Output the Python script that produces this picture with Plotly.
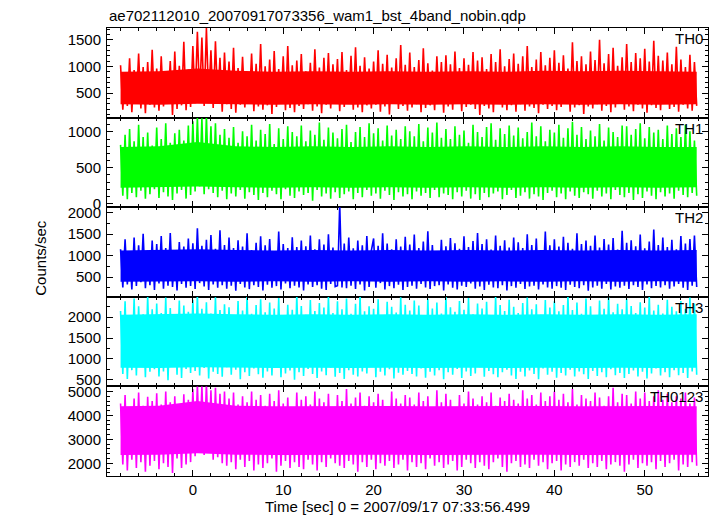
import plotly.graph_objects as go
from plotly.subplots import make_subplots

title_text = "ae702112010_20070917073356_wam1_bst_4band_nobin.qdp"
x_title = "Time [sec] 0 = 2007/09/17 07:33:56.499"
y_title = "Counts/sec"
band_names = ["TH0", "TH1", "TH2", "TH3", "TH0123"]
band_colors = ["#ff0000", "#00ff00", "#0000ff", "#00ffff", "#ff00ff"]
t_start = -8.0
t_step = 0.25          # sampling of the spiky light curves
core_step = 4.25       # sampling of the dense (solid) band

th0 = [
    1020, 190, 880, 260, 1150, 140, 930, 300, 1240, 210, 990, 120, 1080, 280, 1310, 230,
    960, 170, 1190, 250, 870, 320, 1100, 90, 1280, 200, 1010, 270, 1460, 180, 940, 240,
    1380, 310, 1650, 420, 1540, 260, 1720, 380, 1300, 220, 1470, 340, 1160, 150, 1260, 290,
    1090, 200, 1350, 130, 970, 280, 1180, 230, 900, 310, 1240, 160, 1050, 250, 1420, 190,
    1000, 270, 1130, 110, 1290, 240, 950, 300, 1190, 180, 1380, 220, 1020, 140, 1110, 260,
    1230, 200, 910, 290, 1070, 170, 1320, 250, 980, 120, 1160, 280, 1250, 210, 1040, 330,
    1140, 160, 1270, 240, 930, 300, 1200, 190, 1360, 230, 1010, 140, 1170, 270, 960, 210,
    1090, 280, 1300, 150, 1050, 250, 1220, 100, 980, 310, 1150, 200, 1400, 260, 1030, 170,
    1260, 230, 990, 290, 1120, 140, 1340, 220, 1060, 270, 920, 180, 1190, 300, 1080, 130,
    1210, 250, 1040, 190, 1280, 310, 970, 160, 1150, 240, 1030, 280, 1270, 200, 1110, 90,
    1170, 260, 950, 210, 1230, 140, 1080, 300, 1320, 230, 1000, 180, 1140, 270, 1240, 150,
    1050, 290, 1190, 170, 1380, 250, 990, 220, 1130, 120, 1270, 280, 1020, 200, 1160, 260,
    1300, 180, 1070, 240, 1210, 300, 960, 150, 1450, 230, 1100, 270, 1190, 110, 1040, 250,
    1280, 210, 1120, 290, 1500, 170, 1060, 260, 1230, 140, 1350, 230, 1010, 300, 1170, 190,
    1420, 250, 1080, 160, 1250, 280, 1150, 210, 1330, 130, 1090, 270, 1480, 220, 1200, 180,
    1110, 300, 1260, 200, 1040, 240, 1370, 150, 1130, 280, 990, 210, 1220, 170, 1080, 260,
]

th1 = [
    820, 110, 960, 60, 1040, 150, 870, 90, 1100, 180, 930, 70, 990, 130, 810, 200,
    1060, 80, 900, 160, 1120, 100, 850, 50, 980, 140, 1030, 190, 880, 70, 1090, 120,
    1150, 170, 1210, 240, 1190, 130, 1230, 200, 1080, 150, 1120, 90, 960, 180, 1040, 60,
    920, 140, 1070, 100, 850, 190, 1010, 70, 940, 160, 1100, 120, 880, 50, 1030, 150,
    970, 90, 1110, 180, 830, 130, 1050, 60, 900, 200, 1080, 110, 1000, 80, 940, 170,
    1090, 120, 870, 150, 1020, 40, 960, 190, 1130, 100, 890, 140, 1060, 70, 990, 160,
    910, 80, 1040, 130, 1100, 170, 860, 60, 1000, 150, 1070, 90, 930, 190, 1120, 110,
    980, 140, 1050, 70, 880, 180, 1090, 120, 950, 50, 1030, 160, 900, 100, 1080, 130,
    1010, 60, 940, 170, 1110, 110, 870, 150, 1060, 80, 990, 190, 1130, 90, 920, 140,
    1040, 120, 900, 60, 1080, 160, 960, 100, 1020, 180, 850, 70, 1100, 130, 1000, 50,
    930, 150, 1070, 90, 1120, 140, 890, 170, 1050, 60, 970, 120, 1090, 190, 950, 80,
    1060, 110, 910, 160, 1000, 70, 1130, 130, 940, 100, 1080, 50, 870, 150, 1030, 180,
    990, 90, 1100, 140, 920, 60, 1050, 170, 1140, 110, 960, 80, 1070, 160, 900, 130,
    1020, 70, 940, 180, 1110, 100, 880, 140, 1060, 60, 1000, 190, 930, 120, 1090, 90,
    1080, 150, 960, 50, 1040, 130, 1120, 80, 910, 170, 1070, 110, 990, 60, 1030, 160,
    900, 100, 1090, 140, 970, 70, 1050, 180, 930, 120, 1100, 90, 1010, 150, 880, 110,
]

th2 = [
    1150, 260, 1380, 330, 1090, 210, 1420, 290, 1240, 380, 1510, 240, 1120, 310, 1350, 200,
    1270, 350, 1460, 230, 1180, 300, 1530, 270, 1100, 190, 1320, 340, 1210, 250, 1400, 290,
    1290, 220, 1640, 360, 1230, 280, 1370, 200, 1480, 330, 1160, 250, 1590, 310, 1250, 230,
    1420, 300, 1180, 180, 1360, 340, 1210, 260, 1520, 220, 1130, 310, 1300, 270, 1450, 190,
    1240, 320, 1390, 250, 1100, 290, 1560, 210, 1270, 350, 1180, 240, 1430, 300, 1200, 260,
    1350, 190, 1220, 330, 1470, 270, 1150, 310, 1380, 230, 1260, 200, 1500, 340, 1190, 280,
    300, 2200, 260, 1280, 240, 1420, 300, 1170, 220, 1350, 330, 1240, 190, 1460, 270, 1120,
    1400, 250, 1230, 360, 1520, 210, 1280, 290, 1150, 240, 1380, 320, 1210, 200, 1440, 270,
    1260, 300, 1490, 230, 1180, 340, 1330, 260, 1570, 220, 1250, 290, 1110, 310, 1370, 190,
    1220, 330, 1410, 250, 1290, 210, 1160, 300, 1450, 270, 1200, 350, 1340, 230, 1530, 280,
    1270, 200, 1380, 320, 1140, 260, 1470, 240, 1230, 310, 1360, 190, 1190, 290, 1420, 250,
    1310, 340, 1180, 220, 1500, 280, 1250, 300, 1400, 210, 1130, 330, 1560, 260, 1240, 230,
    1380, 290, 1210, 250, 1440, 200, 1300, 320, 1160, 270, 1520, 240, 1270, 310, 1350, 180,
    1230, 260, 1470, 300, 1190, 230, 1390, 340, 1260, 210, 1410, 280, 1140, 250, 1580, 300,
    1300, 220, 1360, 310, 1220, 270, 1490, 200, 1170, 330, 1330, 240, 1610, 290, 1250, 260,
    1420, 310, 1200, 230, 1370, 280, 1150, 340, 1460, 250, 1280, 200, 1390, 300, 1470, 270,
]

th3 = [
    2150, 640, 2380, 520, 1990, 730, 2450, 600, 2260, 810, 2070, 560, 2500, 690, 2190, 750,
    2330, 580, 2100, 700, 2470, 490, 2220, 820, 2040, 620, 2400, 540, 2280, 760, 2130, 660,
    2420, 710, 2550, 600, 2200, 780, 2360, 530, 2090, 690, 2480, 640, 2170, 570, 2310, 800,
    2240, 620, 2020, 740, 2390, 510, 2160, 680, 2510, 590, 2080, 770, 2290, 630, 2430, 550,
    2120, 700, 2350, 600, 2210, 830, 2460, 560, 2010, 650, 2300, 720, 2180, 500, 2540, 680,
    2270, 590, 2060, 760, 2410, 640, 2150, 540, 2340, 700, 2230, 610, 2490, 790, 2100, 570,
    2380, 660, 2190, 520, 2450, 730, 2080, 620, 2320, 580, 2520, 700, 2140, 650, 2260, 810,
    2200, 560, 2430, 690, 2050, 600, 2370, 750, 2250, 530, 2110, 670, 2480, 620, 2300, 710,
    2160, 640, 2400, 580, 2280, 770, 2030, 550, 2440, 690, 2210, 600, 2350, 730, 2090, 510,
    2500, 680, 2240, 620, 2130, 760, 2390, 540, 2180, 700, 2460, 590, 2070, 650, 2330, 800,
    2210, 570, 2370, 710, 2020, 630, 2500, 560, 2290, 680, 2150, 740, 2420, 600, 2250, 520,
    2100, 690, 2340, 580, 2470, 720, 2190, 640, 2310, 510, 2060, 770, 2410, 620, 2230, 690,
    2380, 550, 2140, 660, 2290, 600, 2530, 740, 2170, 580, 2350, 700, 2080, 630, 2450, 520,
    2260, 710, 2040, 590, 2400, 680, 2200, 560, 2480, 750, 2120, 610, 2320, 660, 2190, 540,
    2440, 640, 2270, 720, 2100, 580, 2360, 690, 2230, 530, 2510, 650, 2160, 770, 2300, 600,
    2090, 680, 2420, 560, 2250, 730, 2140, 610, 2390, 660, 2200, 540, 2470, 700, 2330, 620,
]

th0123 = [
    4500, 1950, 4850, 1700, 4280, 2150, 4700, 1800, 4950, 2050, 4400, 1650, 4780, 1900, 4600, 2100,
    4920, 1750, 4450, 2000, 5000, 1850, 4550, 1600, 4800, 2200, 4350, 1800, 4880, 1950, 4650, 2050,
    5100, 2300, 5300, 2550, 5250, 2350, 5350, 2450, 5050, 2150, 5150, 2250, 4900, 2000, 5000, 1900,
    4700, 2050, 4950, 1750, 4450, 2150, 4800, 1850, 4550, 2100, 5000, 1700, 4650, 1950, 4850, 1800,
    4400, 2000, 4900, 2200, 4600, 1650, 5050, 1900, 4500, 2100, 4750, 1800, 4350, 2050, 4950, 1850,
    4650, 1750, 4800, 2150, 4450, 1950, 5000, 1700, 4700, 2050, 4550, 1850, 4900, 2200, 4350, 2000,
    4850, 1900, 4600, 1800, 5100, 2100, 4500, 1950, 4750, 1650, 4950, 2050, 4400, 1850, 4800, 2150,
    4550, 1750, 4900, 2000, 4650, 1900, 4350, 2100, 5000, 1800, 4700, 1950, 4500, 2150, 4850, 1700,
    4750, 2050, 4450, 1850, 4950, 2000, 4600, 1750, 4800, 2200, 4300, 1900, 5050, 2050, 4550, 1800,
    4900, 1950, 4650, 2100, 4350, 1700, 4850, 1850, 4500, 2150, 5000, 2000, 4700, 1800, 4450, 2050,
    4800, 1900, 4550, 1750, 4950, 2050, 4400, 2200, 4750, 1850, 4600, 1650, 4900, 2000, 4650, 2100,
    4500, 1850, 5050, 1950, 4700, 1800, 4850, 2150, 4450, 1900, 4950, 2050, 4600, 1750, 4800, 2000,
    5000, 2100, 4650, 1700, 4900, 1950, 4550, 1850, 5100, 2050, 4450, 1900, 4850, 2150, 4700, 1800,
    4600, 2000, 4950, 1850, 4750, 2100, 4400, 1750, 4800, 1950, 5150, 2050, 4550, 1900, 4900, 1650,
    4850, 1950, 4500, 2150, 5000, 1800, 4700, 2000, 4950, 1900, 4600, 2050, 4800, 1750, 5050, 2100,
    4650, 1850, 4900, 2000, 4550, 2150, 4800, 1700, 4700, 1950, 4950, 1850, 4500, 2050, 4750, 1900,
]

# dense (solid-looking) part of each light curve, lower and upper edge
th0_core_lo = [290, 280, 300, 290, 280, 290, 280, 290, 280, 290, 280, 290, 280, 290, 280, 290]
th0_core_hi = [900, 910, 960, 920, 900, 910, 900, 910, 900, 910, 900, 920, 910, 920, 910, 900]
th1_core_lo = [220, 230, 240, 230, 220, 230, 220, 230, 220, 230, 220, 230, 220, 230, 220, 230]
th1_core_hi = [790, 800, 860, 800, 790, 800, 790, 800, 790, 800, 790, 800, 790, 800, 790, 790]
th2_core_lo = [390, 400, 400, 390, 400, 390, 400, 390, 400, 390, 400, 390, 400, 390, 400, 390]
th2_core_hi = [1120, 1130, 1150, 1130, 1120, 1130, 1120, 1130, 1120, 1130, 1120, 1130, 1120, 1130, 1120, 1130]
th3_core_lo = [790, 780, 800, 790, 780, 790, 780, 790, 780, 790, 780, 790, 780, 790, 780, 790]
th3_core_hi = [2060, 2070, 2090, 2070, 2060, 2070, 2060, 2070, 2060, 2070, 2060, 2070, 2060, 2070, 2060, 2070]
th0123_core_lo = [2350, 2360, 2420, 2360, 2350, 2360, 2350, 2360, 2350, 2360, 2350, 2360, 2350, 2360, 2350, 2360]
th0123_core_hi = [4380, 4400, 4600, 4400, 4380, 4390, 4380, 4390, 4380, 4390, 4380, 4390, 4380, 4400, 4390, 4380]

series = [th0, th1, th2, th3, th0123]
cores = [
    (th0_core_lo, th0_core_hi), (th1_core_lo, th1_core_hi), (th2_core_lo, th2_core_hi),
    (th3_core_lo, th3_core_hi), (th0123_core_lo, th0123_core_hi),
]
y_ranges = [[40, 1720], [-50, 1200], [40, 2130], [340, 2490], [1470, 5210]]
y_dticks = [500, 500, 500, 500, 1000]
y_minor = [100, 100, 250, 250, 200]
x_range = [-9.5, 57.0]

FONT = "Liberation Sans, Arial, Helvetica, sans-serif"

fig = make_subplots(rows=5, cols=1, shared_xaxes=True, vertical_spacing=0)

for i, (vals, col, (lo, hi)) in enumerate(zip(series, band_colors, cores)):
    fig.add_trace(
        go.Scatter(x0=t_start, dx=core_step, y=lo, mode="lines", line=dict(width=0, color=col),
                   showlegend=False, hoverinfo="skip"),
        row=i + 1, col=1,
    )
    fig.add_trace(
        go.Scatter(x0=t_start, dx=core_step, y=hi, mode="lines", line=dict(width=0, color=col),
                   fill="tonexty", fillcolor=col, showlegend=False, hoverinfo="skip"),
        row=i + 1, col=1,
    )
    fig.add_trace(
        go.Scatter(
            x0=t_start, dx=t_step, y=vals, mode="lines",
            line=dict(color=col, width=1.6), showlegend=False, hoverinfo="skip",
        ),
        row=i + 1, col=1,
    )

axis_common = dict(
    showline=True, linecolor="black", linewidth=1, mirror="allticks",
    ticks="inside", tickcolor="black", showgrid=False, zeroline=False,
    tickfont=dict(family=FONT, size=15, color="black"),
)

for i in range(5):
    fig.update_xaxes(
        range=x_range, tick0=0, dtick=10, ticklen=6,
        minor=dict(ticks="inside", dtick=2, tick0=0, ticklen=3, tickcolor="black", showgrid=False),
        showticklabels=(i == 4), ticklabelstandoff=0,
        row=i + 1, col=1, **axis_common,
    )
    fig.update_yaxes(
        range=y_ranges[i], tick0=0, dtick=y_dticks[i], ticklen=6,
        minor=dict(ticks="inside", dtick=y_minor[i], tick0=0, ticklen=3, tickcolor="black", showgrid=False),
        ticklabelstandoff=2,
        row=i + 1, col=1, **axis_common,
    )

annotations = [
    dict(text=title_text, xref="paper", yref="paper", x=0, y=1.027, xanchor="left", yanchor="middle",
         showarrow=False, font=dict(family=FONT, size=15, color="black")),
    dict(text=x_title, xref="paper", yref="paper", x=0.483, y=-0.069, xanchor="center", yanchor="middle",
         showarrow=False, font=dict(family=FONT, size=15, color="black")),
    dict(text=y_title, xref="paper", yref="paper", x=-0.110, y=0.487, xanchor="center", yanchor="middle",
         textangle=-90, showarrow=False, font=dict(family=FONT, size=15, color="black")),
]
axis_suffix = ["", "2", "3", "4", "5"]
for i, name in enumerate(band_names):
    annotations.append(dict(
        text=name, xref=f"x{axis_suffix[i]} domain", yref=f"y{axis_suffix[i]} domain",
        x=1, y=1, xanchor="right", yanchor="top", xshift=-3, yshift=0,
        showarrow=False, font=dict(family=FONT, size=15, color="black"),
    ))

# the page adds an 8 px body margin, so the figure is sized to fit the 717x516 window
fig.update_layout(
    width=709, height=508,
    margin=dict(l=99, r=9, t=20, b=40),
    paper_bgcolor="white", plot_bgcolor="white",
    annotations=annotations,
    showlegend=False,
)

fig.write_html("out.html")
